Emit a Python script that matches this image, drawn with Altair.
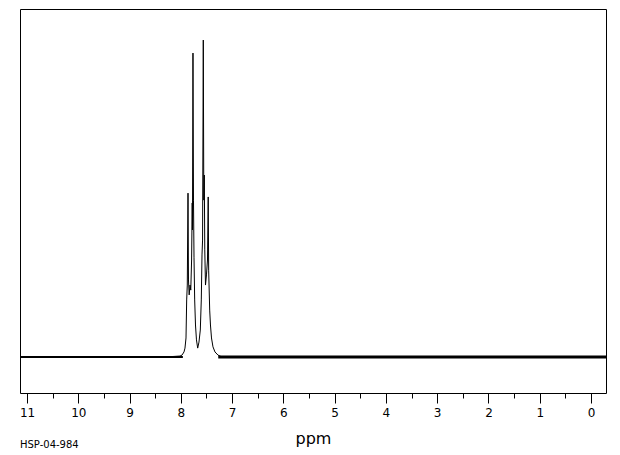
import altair as alt
import pandas as pd

# Spectrum trace (chemical shift in ppm, relative intensity, tallest = 100)
ppm = [11.137, 8.30, 8.016, 7.977, 7.938, 7.919, 7.899, 7.886, 7.874, 7.860, 7.851,
       7.837, 7.821, 7.806, 7.790, 7.778, 7.773, 7.763, 7.753, 7.743, 7.730,
       7.714, 7.695, 7.671, 7.646, 7.620, 7.601, 7.587, 7.576, 7.562, 7.552,
       7.542, 7.533, 7.519, 7.500, 7.480, 7.466, 7.457, 7.437, 7.422, 7.402,
       7.373, 7.334, 7.275, 7.197, 6.90, -0.293]
intensity = [0.0, 0.0, 0.3, 0.6, 1.6, 2.8, 6.0, 18.0, 22.7, 51.7, 24.3,
             19.6, 22.7, 21.1, 30.6, 48.6, 40.1, 95.9, 49.5, 31.5, 18.0,
             10.1, 5.4, 2.8, 4.7, 8.5, 18.0, 32.2, 36.9, 100.0, 49.5,
             57.4, 33.8, 22.7, 25.9, 30.6, 50.5, 27.4, 14.8, 10.1, 6.0,
             3.2, 1.6, 0.6, 0.0, 0.0, 0.0]

# Baseline noise band segments (ppm), drawn as a thicker trace at zero intensity
noise_left = [11.137, 7.96]
noise_right = [7.27, -0.293]

major_ticks = [11, 10, 9, 8, 7, 6, 5, 4, 3, 2, 1, 0]
minor_ticks = [10.5, 9.5, 8.5, 7.5, 6.5, 5.5, 4.5, 3.5, 2.5, 1.5, 0.5]

x_domain = [11.137, -0.293]
y_domain = [-11.36, 109.8]
code_label = "HSP-04-984"

rows = []
for p, v in zip(ppm, intensity):
    rows.append({"ppm": p, "intensity": v, "series": "spectrum"})
for p in noise_left:
    rows.append({"ppm": p, "intensity": 0.0, "series": "noise1"})
for p in noise_right:
    rows.append({"ppm": p, "intensity": 0.0, "series": "noise2"})
df = pd.DataFrame(rows)

all_ticks = sorted(major_ticks + minor_ticks, reverse=True)

chart = alt.Chart(df).mark_line(color="black").encode(
    x=alt.X("ppm:Q", scale=alt.Scale(domain=x_domain, nice=False, zero=False),
            axis=alt.Axis(values=all_ticks, title="ppm", grid=False,
                          labelExpr="datum.value % 1 != 0 ? '' : format(datum.value, 'd')",
                          tickSize={"condition": {"test": "datum.value % 1 != 0", "value": 5}, "value": 10},
                          tickColor="black", tickWidth=1,
                          labelFont="DejaVu Sans", labelFontSize=12, labelColor="black",
                          labelPadding=4, domain=False,
                          titleFont="DejaVu Sans", titleFontSize=16, titleFontWeight="normal",
                          titleColor="black", titlePadding=12)),
    y=alt.Y("intensity:Q", scale=alt.Scale(domain=y_domain, nice=False, zero=False), axis=None),
    strokeWidth=alt.StrokeWidth("series:N",
                                scale=alt.Scale(domain=["spectrum", "noise1", "noise2"], range=[1, 3, 3]),
                                legend=None),
).properties(
    width=586, height=384,
    background="white",
    title=alt.TitleParams(text=code_label, orient="bottom", anchor="start", frame="group",
                          font="DejaVu Sans", fontSize=10, fontWeight="normal", color="black",
                          offset=-6),
    autosize=alt.AutoSizeParams(type="none"),
    padding={"left": 20, "top": 9, "right": 14, "bottom": 62},
).configure_view(stroke="black", strokeWidth=1)

chart.save("out.html", embed_options={"renderer": "svg", "actions": False})
